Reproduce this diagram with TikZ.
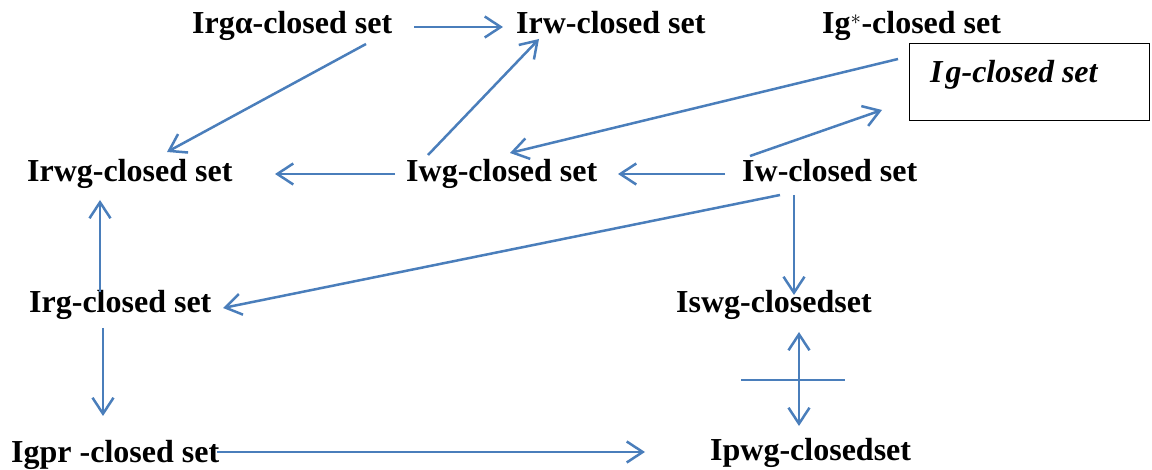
\documentclass[tikz,border=0pt]{standalone}
\usepackage{fontspec}
\setmainfont{Liberation Serif}
\usetikzlibrary{arrows.meta}
\definecolor{arrowblue}{HTML}{4A7EBB}
\tikzset{
  lbl/.style={anchor=base west, inner sep=0pt, font=\fontsize{32}{38}\selectfont\bfseries},
  conn/.style={draw=arrowblue, line width=2.5pt, -{Straight Barb[length=16pt,width=21pt,line width=2.5pt]}},
  conn2/.style={draw=arrowblue, line width=2.5pt, {Straight Barb[length=16pt,width=21pt,line width=2.5pt]}-{Straight Barb[length=16pt,width=21pt,line width=2.5pt]}},
  plain/.style={draw=arrowblue, line width=2.5pt},
  boxst/.style={draw=black, line width=1.3pt, anchor=north west, minimum width=240pt, minimum height=77pt, inner sep=0pt}
}
\begin{document}
\begin{tikzpicture}[x=1pt,y=-1pt]
\useasboundingbox (0,0) rectangle (1152,470);
% nodes
\node[lbl] (irga) at (192,34) {Irgα-closed set};
\node[lbl] (irw)  at (516,34) {Irw-closed set};
\node[lbl] (igs)  at (822,34) {Ig$^{*}$-closed set};
\node[boxst] (box) at (909,43) {};
\node[lbl, font=\fontsize{32}{38}\selectfont\bfseries\itshape] (ig) at (930,83) {I\kern3pt g-closed set};
\node[lbl] (irwg) at (27,182) {Irwg-closed set};
\node[lbl] (iwg)  at (406,182) {Iwg-closed set};
\node[lbl] (iw)   at (742,182) {Iw-closed set};
\node[lbl] (irg)  at (29,313) {Irg-closed set};
\node[lbl] (iswg) at (676,313) {Iswg-closedset};
\node[lbl] (igpr) at (11,462) {Igpr -closed set};
\node[lbl] (ipwg) at (710,460) {Ipwg-closedset};
% connectors
\draw[conn] ([shift={(222,-7)}]irga.base west) -- ([shift={(-13,-7)}]irw.base west);
\draw[conn] ([shift={(174,10)}]irga.base west) -- ([shift={(140,-30)}]irwg.base west);
\draw[conn] ([shift={(22,-27)}]iwg.base west) -- ([shift={(23,5)}]irw.base west);
\draw[conn] ([shift={(-11,16)}]box.north west) -- ([shift={(104,-29)}]iwg.base west);
\draw[conn] ([shift={(8,-26)}]iw.base west) -- ([shift={(-27,67)}]box.north west);
\draw[conn] ([shift={(-17,-8)}]iw.base west) -- ([shift={(212,-8)}]iwg.base west);
\draw[conn] ([shift={(-11,-8)}]iwg.base west) -- ([shift={(248,-8)}]irwg.base west);
\draw[conn] ([shift={(71,-21)}]irg.base west) -- ([shift={(73,18)}]irwg.base west);
\draw[conn] ([shift={(38,13)}]iw.base west) -- ([shift={(194,-5)}]irg.base west);
\draw[conn] ([shift={(52,13)}]iw.base west) -- ([shift={(118,-18)}]iswg.base west);
\draw[conn2] ([shift={(123,19)}]iswg.base west) -- ([shift={(89,-34)}]ipwg.base west);
\draw[plain] ([shift={(31,-80)}]ipwg.base west) -- ([shift={(135,-80)}]ipwg.base west);
\draw[conn] ([shift={(74,15)}]irg.base west) -- ([shift={(92,-46)}]igpr.base west);
\draw[conn] ([shift={(206,-10)}]igpr.base west) -- ([shift={(-65,-8)}]ipwg.base west);
\end{tikzpicture}
\end{document}
